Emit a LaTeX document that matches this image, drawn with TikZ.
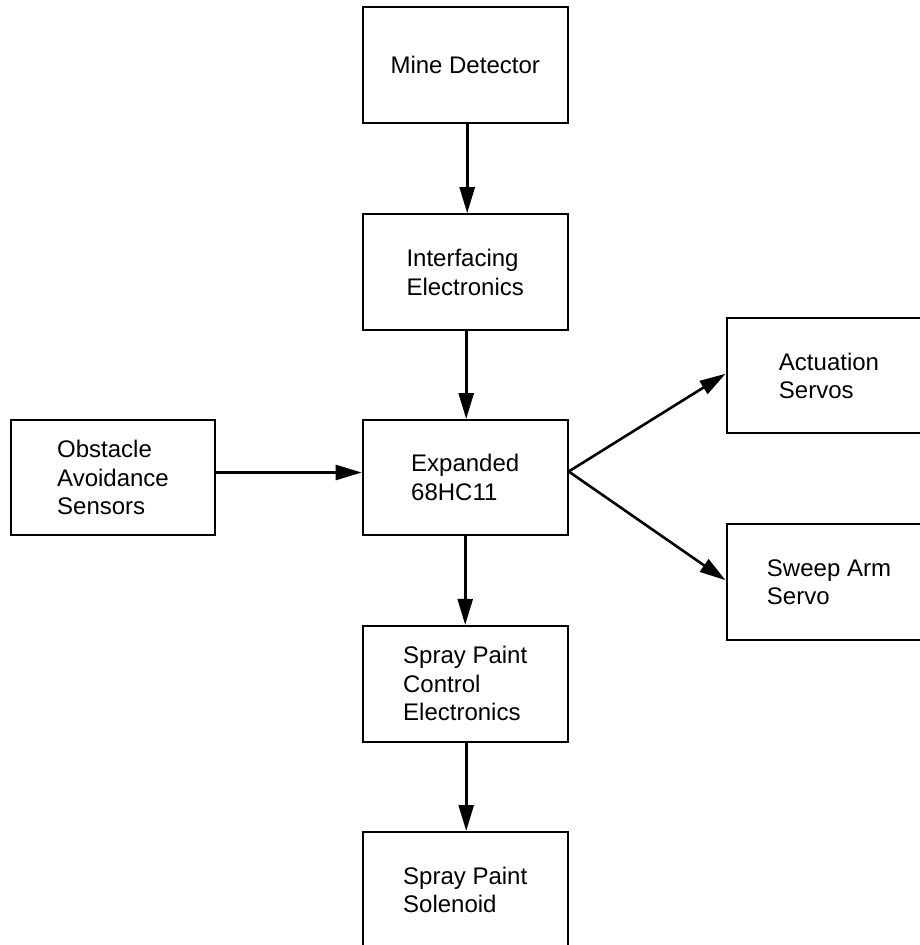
\documentclass[tikz,border=0pt]{standalone}
\usepackage{fontspec}
\setmainfont{Liberation Sans}
\usetikzlibrary{arrows.meta}
\tikzset{
  blk/.style={draw=black, line width=2pt, fill=white, minimum width=205pt, minimum height=116pt,
    inner sep=0pt, align=left, font=\fontsize{24}{28.5}\selectfont},
  conn/.style={line width=2.6pt, -{Triangle[length=26pt, width=15pt]}}
}
\begin{document}
\begin{tikzpicture}[x=1pt, y=-1pt]
\clip (0,0) rectangle (920,945);
\fill[white] (0,0) rectangle (920,945);
\node[blk] (mine) at (465.2,65.3) {Mine Detector};
\node[blk] (intf) at (465.2,272.2) {Interfacing\\Electronics};
\node[blk, minimum height=115pt] (exp) at (465.2,477.5) {Expanded\\68HC11};
\node[blk, minimum width=204pt, minimum height=115pt] (obs) at (113,477.5) {Obstacle\\Avoidance\\Sensors};
\node[blk, minimum height=115pt] (act) at (829,375.8) {Actuation\\Servos};
\node[blk] (swp) at (829,582.2) {Sweep Arm\\Servo};
\node[blk] (spc) at (465.2,683.9) {Spray Paint\\Control\\Electronics};
\node[blk] (sol) at (465.2,890) {Spray Paint\\Solenoid};
\draw[conn] ([xshift=2pt]mine.south) -- ([xshift=2pt]intf.north);
\draw[conn] ([xshift=1pt]intf.south) -- ([xshift=1pt]exp.north);
\draw[conn] (exp.south) -- (spc.north);
\draw[conn] ([xshift=1pt]spc.south) -- ([xshift=1pt]sol.north);
\draw[conn] ([yshift=5pt]obs.east) -- ([yshift=5pt]exp.west);
\draw[conn] ([yshift=6pt]exp.east) -- ([yshift=2pt]act.west);
\draw[conn] ([yshift=6pt]exp.east) -- ([yshift=2pt]swp.west);
\end{tikzpicture}
\end{document}
